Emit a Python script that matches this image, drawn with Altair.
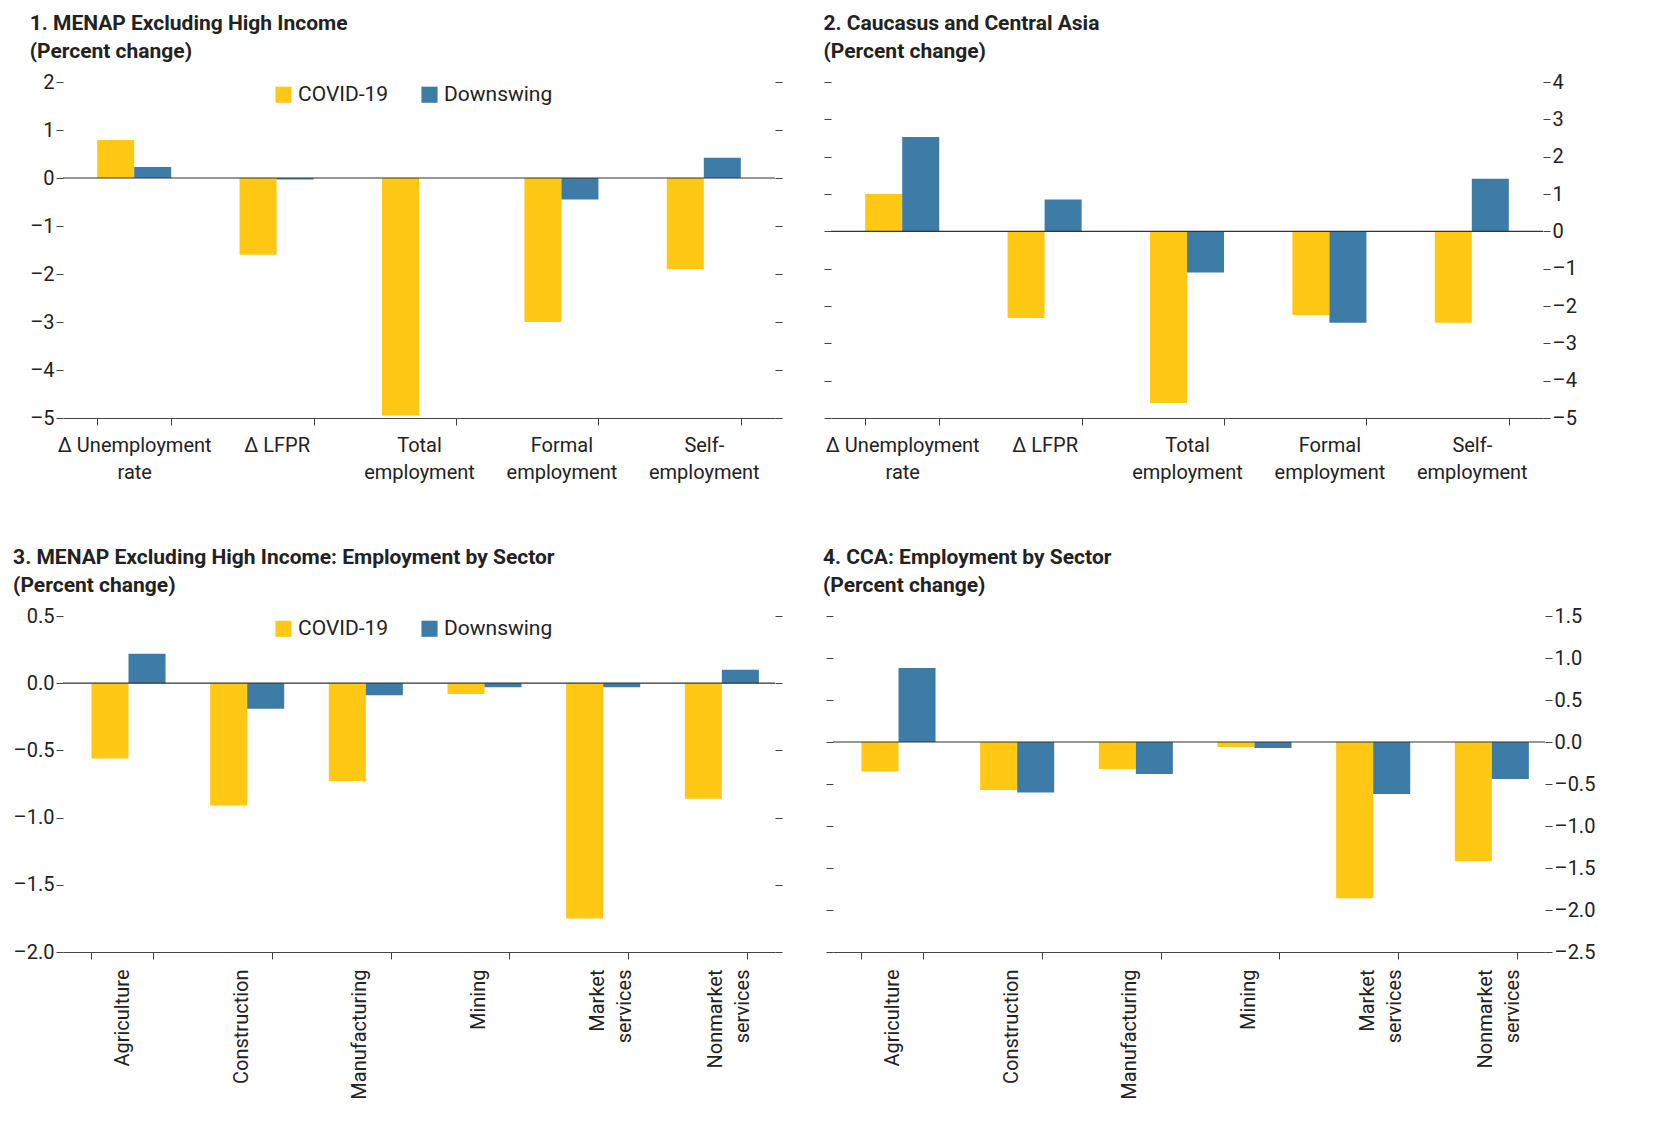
import altair as alt
import pandas as pd

FONT = "Roboto"
COVID = "#FFC815"
DOWN = "#3E7CA8"

labor_cats = ["Δ Unemployment\nrate", "Δ LFPR", "Total\nemployment", "Formal\nemployment", "Self-\nemployment"]
sector_cats = ["Agriculture", "Construction", "Manufacturing", "Mining", "Market\nservices", "Nonmarket\nservices"]

menap_covid = [0.79, -1.6, -4.95, -3.0, -1.9]
menap_down = [0.23, -0.03, 0.0, -0.45, 0.42]
cca_covid = [1.0, -2.32, -4.6, -2.24, -2.45]
cca_down = [2.53, 0.85, -1.1, -2.45, 1.41]

menap_sec_covid = [-0.56, -0.91, -0.73, -0.08, -1.75, -0.86]
menap_sec_down = [0.22, -0.19, -0.09, -0.03, -0.03, 0.1]
cca_sec_covid = [-0.35, -0.57, -0.32, -0.06, -1.86, -1.42]
cca_sec_down = [0.88, -0.6, -0.38, -0.07, -0.62, -0.44]


def make_df(cats, covid, down):
    rows = []
    for c, a, b in zip(cats, covid, down):
        rows.append({"cat": c, "series": "COVID-19", "value": a})
        rows.append({"cat": c, "series": "Downswing", "value": b})
    return pd.DataFrame(rows)


def panel(df, cats, domain, step, fmt, title, right, rotate):
    ticks = []
    v = domain[0]
    while v <= domain[1] + 1e-9:
        ticks.append(round(v, 2))
        v += step
    yscale = alt.Scale(domain=domain, nice=False, zero=False)
    xaxis = alt.Axis(
        title=None, tickBand="extent", labelExpr="split(datum.label, '\\n')",
        labelAngle=-90 if rotate else 0, labelAlign="right" if rotate else "center",
        labelBaseline="middle" if rotate else "top",
        labelFontSize=20, labelColor="#222", labelFont=FONT, tickColor="#444",
        domainColor="#444", labelPadding=10, tickSize=7, labelLineHeight=27,
    )
    base = alt.Chart(df).encode(
        x=alt.X("cat:N", sort=cats, axis=xaxis, scale=alt.Scale(paddingInner=0.48, paddingOuter=0.24)),
    )
    main_axis = alt.Axis(
        title=None, values=ticks, format=fmt, orient="right" if right else "left",
        labelExpr="replace(datum.label, /[-\u2212]/, '\u2013')",
        domain=False, grid=False, labelFontSize=20, labelColor="#222", labelFont=FONT,
        tickColor="#444", tickSize=7,
    )
    other_axis = alt.Axis(
        title=None, values=ticks, orient="left" if right else "right", labels=False,
        domain=False, grid=False, tickColor="#444", tickSize=7,
    )
    bars = base.mark_bar().encode(
        y=alt.Y("value:Q", scale=yscale, axis=main_axis),
        xOffset=alt.XOffset("series:N", sort=["COVID-19", "Downswing"]),
        color=alt.Color(
            "series:N",
            scale=alt.Scale(domain=["COVID-19", "Downswing"], range=[COVID, DOWN]),
            legend=alt.Legend(
                title=None, orient="none", direction="horizontal", legendX=210,
                legendY=2, labelFontSize=21, labelFont=FONT, labelColor="#222",
                symbolType="square", symbolSize=260, columnPadding=30,
            ),
        ),
    )
    other = alt.Chart(pd.DataFrame({"v": [0]})).mark_rule(color="#333", strokeWidth=1.2).encode(
        y=alt.Y("v:Q", scale=yscale, axis=other_axis)
    )
    return alt.layer(bars, other).resolve_scale(y="independent").properties(
        width=712, height=336,
        title=alt.TitleParams(title, anchor="start", fontSize=21, font=FONT,
                              fontWeight="bold", color="#222", offset=10, lineHeight=28),
    )


IND = "\u2003"
p1 = panel(make_df(labor_cats, menap_covid, menap_down), labor_cats, [-5, 2], 1, "d",
           ["1. MENAP Excluding High Income", IND + "(Percent change)"], False, False)
p2 = panel(make_df(labor_cats, cca_covid, cca_down), labor_cats, [-5, 4], 1, "d",
           ["2. Caucasus and Central Asia", IND + "(Percent change)"], True, False)
p3 = panel(make_df(sector_cats, menap_sec_covid, menap_sec_down), sector_cats, [-2, 0.5], 0.5, ".1f",
           ["3. MENAP Excluding High Income: Employment by Sector", IND + "(Percent change)"], False, True)
p4 = panel(make_df(sector_cats, cca_sec_covid, cca_sec_down), sector_cats, [-2.5, 1.5], 0.5, ".1f",
           ["4. CCA: Employment by Sector", IND + "(Percent change)"], True, True)

chart = alt.vconcat(
    alt.hconcat(p1, p2, spacing=40),
    alt.hconcat(p3, p4, spacing=40),
    spacing=65,
).resolve_scale(color="independent").configure_view(stroke=None)

chart.save("out.html", embed_options={"renderer": "svg", "actions": False})
